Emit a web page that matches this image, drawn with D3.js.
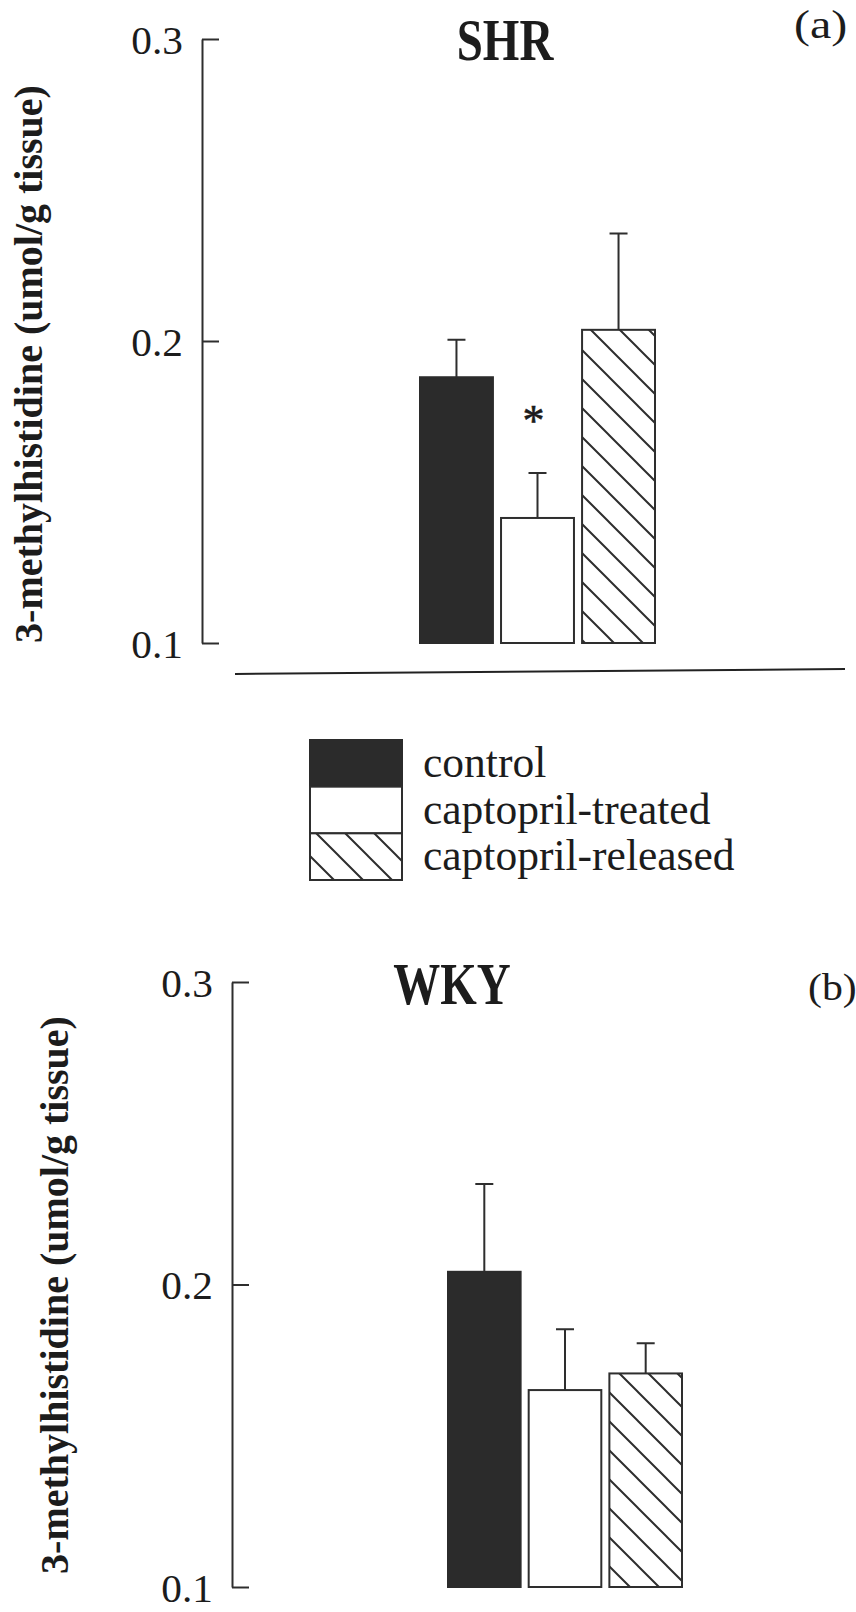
<!DOCTYPE html>
<html>
<head>
<meta charset="utf-8">
<script src="https://cdn.jsdelivr.net/npm/d3@7"></script>
<style>
  html, body { margin: 0; padding: 0; background: #fff; }
  svg { display: block; }
  text { font-family: "Liberation Serif", "Times New Roman", serif; fill: #1c1c1c; }
</style>
</head>
<body>
<svg id="chart" width="856" height="1612"></svg>
<script>
// Treatment groups (bar order and legend order)
const groups = ["control", "captopril-treated", "captopril-released"];

// 3-methylhistidine, umol/g tissue: mean and upper error (SEM)
const shrMeans  = [0.188, 0.1414, 0.2037];
const shrErrors = [0.0124, 0.0149, 0.0319];
const shrMarks  = ["", "*", ""];

const wkyMeans  = [0.2042, 0.1651, 0.1706];
const wkyErrors = [0.0290, 0.0201, 0.0100];
const wkyMarks  = ["", "", ""];

// Axis
const yDomain    = [0.1, 0.3];
const yTicks     = [0.1, 0.2, 0.3];
const yTickText  = ["0.1", "0.2", "0.3"];
const yAxisTitle = "3-methylhistidine (umol/g tissue)";

const fills = ["#2b2b2b", "#ffffff", "url(#hatch)"];
const ink = "#2e2e2e";

const svg = d3.select("#chart");

// diagonal hatch used by the "captopril-released" bars
const defs = svg.append("defs");
const pat = defs.append("pattern")
  .attr("id", "hatch")
  .attr("patternUnits", "userSpaceOnUse")
  .attr("width", 29).attr("height", 29);
pat.append("rect").attr("width", 29).attr("height", 29).attr("fill", "#fff");
pat.append("path")
  .attr("d", "M-3,-3 L32,32 M-3,26 L3,32 M26,-3 L32,3")
  .attr("stroke", ink).attr("stroke-width", 2);

const panels = [
  { title: "SHR", tag: "(a)", means: shrMeans, errors: shrErrors, marks: shrMarks,
    axisX: 202, yRange: [643, 39], xRange: [420, 655],
    titleX: 505, titleY: 60, tagX: 794, tagY: 38, tagSize: 40, tagStretch: 1.2,
    labelX: 28, labelY: 364 },
  { title: "WKY", tag: "(b)", means: wkyMeans, errors: wkyErrors, marks: wkyMarks,
    axisX: 232, yRange: [1587, 982], xRange: [448, 682],
    titleX: 452, titleY: 1004, tagX: 808, tagY: 1000, tagSize: 38, tagStretch: 1.1,
    labelX: 54, labelY: 1295 }
];

panels.forEach(p => {
  const y = d3.scaleLinear().domain(yDomain).range(p.yRange);
  const x = d3.scaleBand().domain(groups).range(p.xRange)
    .paddingInner(0.1).paddingOuter(0);
  const g = svg.append("g");

  // y axis: ticks point inward, labels on the left
  const axis = d3.axisLeft(y)
    .tickValues(yTicks)
    .tickFormat((d, i) => yTickText[i])
    .tickSize(-17)
    .tickSizeOuter(0)
    .tickPadding(19);
  const ag = g.append("g")
    .attr("transform", `translate(${p.axisX},0)`)
    .call(axis);
  ag.select(".domain").attr("stroke", ink).attr("stroke-width", 2);
  ag.selectAll(".tick line").attr("stroke", ink).attr("stroke-width", 2);
  ag.selectAll(".tick text")
    .attr("font-family", "Liberation Serif")
    .attr("font-size", 39)
    .attr("fill", "#1c1c1c")
    .attr("dy", "0.36em")
    .attr("x", 0)
    .attr("transform", "translate(-19,0) scale(1.06,1)");

  // bars
  const base = y(yDomain[0]);
  g.selectAll("rect.bar").data(p.means).join("rect")
    .attr("class", "bar")
    .attr("x", (d, i) => x(groups[i]))
    .attr("width", x.bandwidth())
    .attr("y", d => y(d))
    .attr("height", d => base - y(d))
    .attr("fill", (d, i) => fills[i])
    .attr("stroke", (d, i) => i === 0 ? "#2b2b2b" : ink)
    .attr("stroke-width", 2);

  // upper error bars
  const cx = i => x(groups[i]) + x.bandwidth() / 2;
  g.selectAll("path.err").data(p.means).join("path")
    .attr("class", "err")
    .attr("d", (d, i) => {
      const top = y(d + p.errors[i]);
      return `M${cx(i)},${y(d)}V${top}M${cx(i) - 9},${top}H${cx(i) + 9}`;
    })
    .attr("fill", "none").attr("stroke", ink).attr("stroke-width", 2);

  // significance marks above the error bars
  g.selectAll("text.mark").data(p.marks).join("text")
    .attr("class", "mark")
    .attr("x", (d, i) => cx(i) - 4)
    .attr("y", (d, i) => y(p.means[i] + p.errors[i]) - 38)
    .attr("text-anchor", "middle")
    .attr("font-size", 44)
    .attr("stroke", "#1c1c1c")
    .attr("stroke-width", 0.6)
    .text(d => d);

  // panel title (tall bold face) and tag
  g.append("text")
    .attr("transform", `translate(${p.titleX},${p.titleY}) scale(1,1.24)`)
    .attr("text-anchor", "middle")
    .attr("font-weight", "bold")
    .attr("font-size", 47)
    .text(p.title);
  g.append("text")
    .attr("transform", `translate(${p.tagX},${p.tagY}) scale(${p.tagStretch},1)`)
    .attr("font-size", p.tagSize)
    .text(p.tag);

  // y axis title
  g.append("text")
    .attr("transform", `translate(${p.labelX},${p.labelY}) rotate(-90)`)
    .attr("text-anchor", "middle")
    .attr("dy", "0.35em")
    .attr("font-weight", "bold")
    .attr("font-size", 40)
    .text(yAxisTitle);
});

// rule under the SHR panel
svg.append("line")
  .attr("x1", 235).attr("y1", 674)
  .attr("x2", 845).attr("y2", 669)
  .attr("stroke", "#222").attr("stroke-width", 2);

// legend
const legend = svg.append("g").attr("transform", "translate(310,740)");
const rowY = d3.scaleBand().domain(groups).range([0, 140]).padding(0);
legend.selectAll("rect").data(groups).join("rect")
  .attr("x", 0)
  .attr("y", d => rowY(d))
  .attr("width", 92)
  .attr("height", rowY.bandwidth())
  .attr("fill", (d, i) => fills[i])
  .attr("stroke", (d, i) => i === 0 ? "#2b2b2b" : ink)
  .attr("stroke-width", 2);
legend.selectAll("text").data(groups).join("text")
  .attr("x", 113)
  .attr("y", d => rowY(d) + 37)
  .attr("font-size", 43.5)
  .text(d => d);
</script>
</body>
</html>
